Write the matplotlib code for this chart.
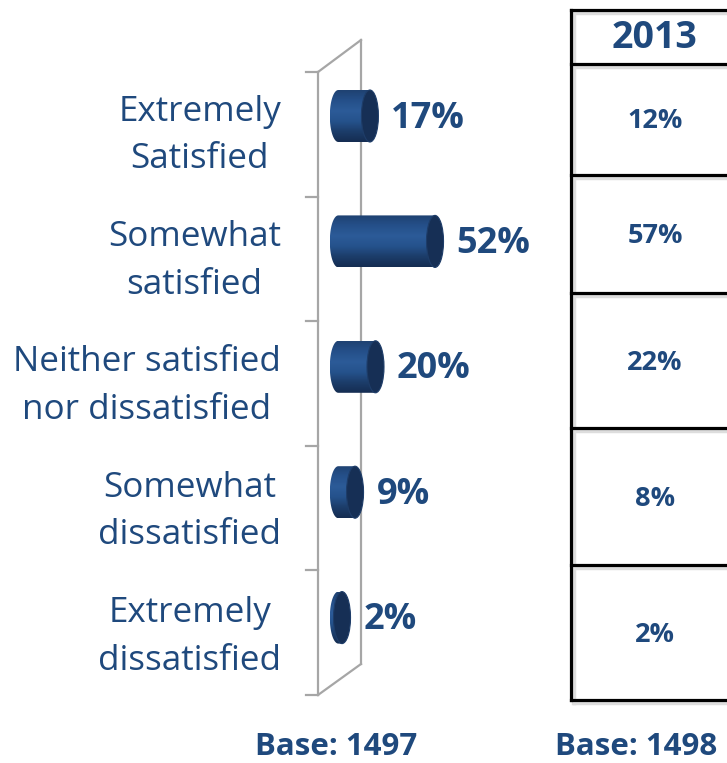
import numpy as np
import matplotlib.pyplot as plt
from matplotlib.patches import Ellipse, PathPatch
from matplotlib.path import Path
from matplotlib.colors import LinearSegmentedColormap

# data
categories = ["Extremely\nSatisfied", "Somewhat\nsatisfied",
              "Neither satisfied\nnor dissatisfied", "Somewhat\ndissatisfied",
              "Extremely\ndissatisfied"]
values_now = [17, 52, 20, 9, 2]
values_2013 = [12, 57, 22, 8, 2]
table_year = "2013"
base_now = 1497
base_2013 = 1498

plt.rcParams['font.family'] = ['Open Sans', 'DejaVu Sans']
blue = '#1F497D'
grey = '#A6A6A6'

fig = plt.figure(figsize=(7.27, 7.63), dpi=100)

# background axes in pixel units for frame, table and footer
bg = fig.add_axes([0, 0, 1, 1])
bg.set_xlim(0, 727)
bg.set_ylim(763, 0)
bg.axis('off')

# 3d-ish wall frame
bg.plot([318, 318], [72, 695], color=grey, lw=1.6)
bg.plot([361, 361], [40, 664], color=grey, lw=1.6)
bg.plot([318, 361], [72, 40], color=grey, lw=1.6)
bg.plot([318, 361], [695, 664], color=grey, lw=1.6)
for ty in np.linspace(72, 695, len(categories) + 1):
    bg.plot([306, 318], [ty, ty], color=grey, lw=1.6)

# table for previous year
rows = [10, 64, 175, 293, 428, 565, 700]
for r in rows:
    bg.plot([573, 727], [r + 3, r + 3], color='#DDDDDD', lw=2.5, zorder=1)
    bg.plot([571, 727], [r, r], color='black', lw=2.3, zorder=2)
bg.plot([574, 574], [12, 703], color='#DDDDDD', lw=2.5, zorder=1)
bg.plot([571, 571], [rows[0], rows[-1]], color='black', lw=2.3, zorder=2)
bg.text(655, 38, table_year, ha='center', va='center', fontsize=27,
        fontweight='bold', color=blue)
for k, v in enumerate(values_2013):
    bg.text(655, (rows[k + 1] + rows[k + 2]) / 2 + 2, f"{v}%", ha='center',
            va='center', fontsize=19.5, fontweight='bold', color=blue)

bg.text(336, 755, f"Base: {base_now}", ha='center', va='baseline',
        fontsize=22.5, fontweight='bold', color=blue)
bg.text(636, 755, f"Base: {base_2013}", ha='center', va='baseline',
        fontsize=22.5, fontweight='bold', color=blue)

# bar axes: x in percent, y in category index
ax = fig.add_axes([0, 0, 1, 1])
ax.patch.set_alpha(0)
ax.axis('off')
px = 1.86      # pixels per percent
x0 = 338.3     # pixel of 0%
xlim = (-x0 / px, (727 - x0) / px)
ylim = ((763 - 116) / 125.4, -116 / 125.4)

cmap = LinearSegmentedColormap.from_list(
    'cyl', ['#1F4272', '#25508A', '#2C5B98', '#25528C', '#1C3D6A', '#152D52'])
grad = cmap(np.linspace(0, 1, 64))[:, None, :]

h = 52 / 125.4
a = 8.5 / px   # half width of the end ellipse
for i, v in enumerate(values_now):
    t = np.linspace(np.pi / 2, 3 * np.pi / 2, 40)
    xs = list(a * np.cos(t)) + [v, v]
    ys = list(i - h / 2 * np.sin(t)) + [i + h / 2, i - h / 2]
    verts = list(zip(xs, ys)) + [(xs[0], ys[0])]
    codes = [Path.MOVETO] + [Path.LINETO] * (len(verts) - 2) + [Path.CLOSEPOLY]
    body = PathPatch(Path(verts, codes), facecolor='none', edgecolor='none')
    ax.add_patch(body)
    im = ax.imshow(grad, extent=(-a, v, i + h / 2, i - h / 2), origin='upper',
                   aspect='auto', interpolation='bilinear', zorder=2)
    im.set_clip_path(body)
    ax.add_patch(Ellipse((v, i), 2 * a, h, facecolor='#162F55',
                         edgecolor='#1E3D69', lw=0.8, zorder=3))
    ax.text(v + 11.5, i + 0.02, f"{v}%", ha='left', va='center', fontsize=26,
            fontweight='bold', color=blue)
    ax.text((281 - x0) / px, i + 0.155, categories[i], ha='right', va='center',
            multialignment='center', fontsize=25.2, color=blue, linespacing=1.52)

ax.set_xlim(*xlim)
ax.set_ylim(*ylim)

fig.savefig('out.png', dpi=100)
